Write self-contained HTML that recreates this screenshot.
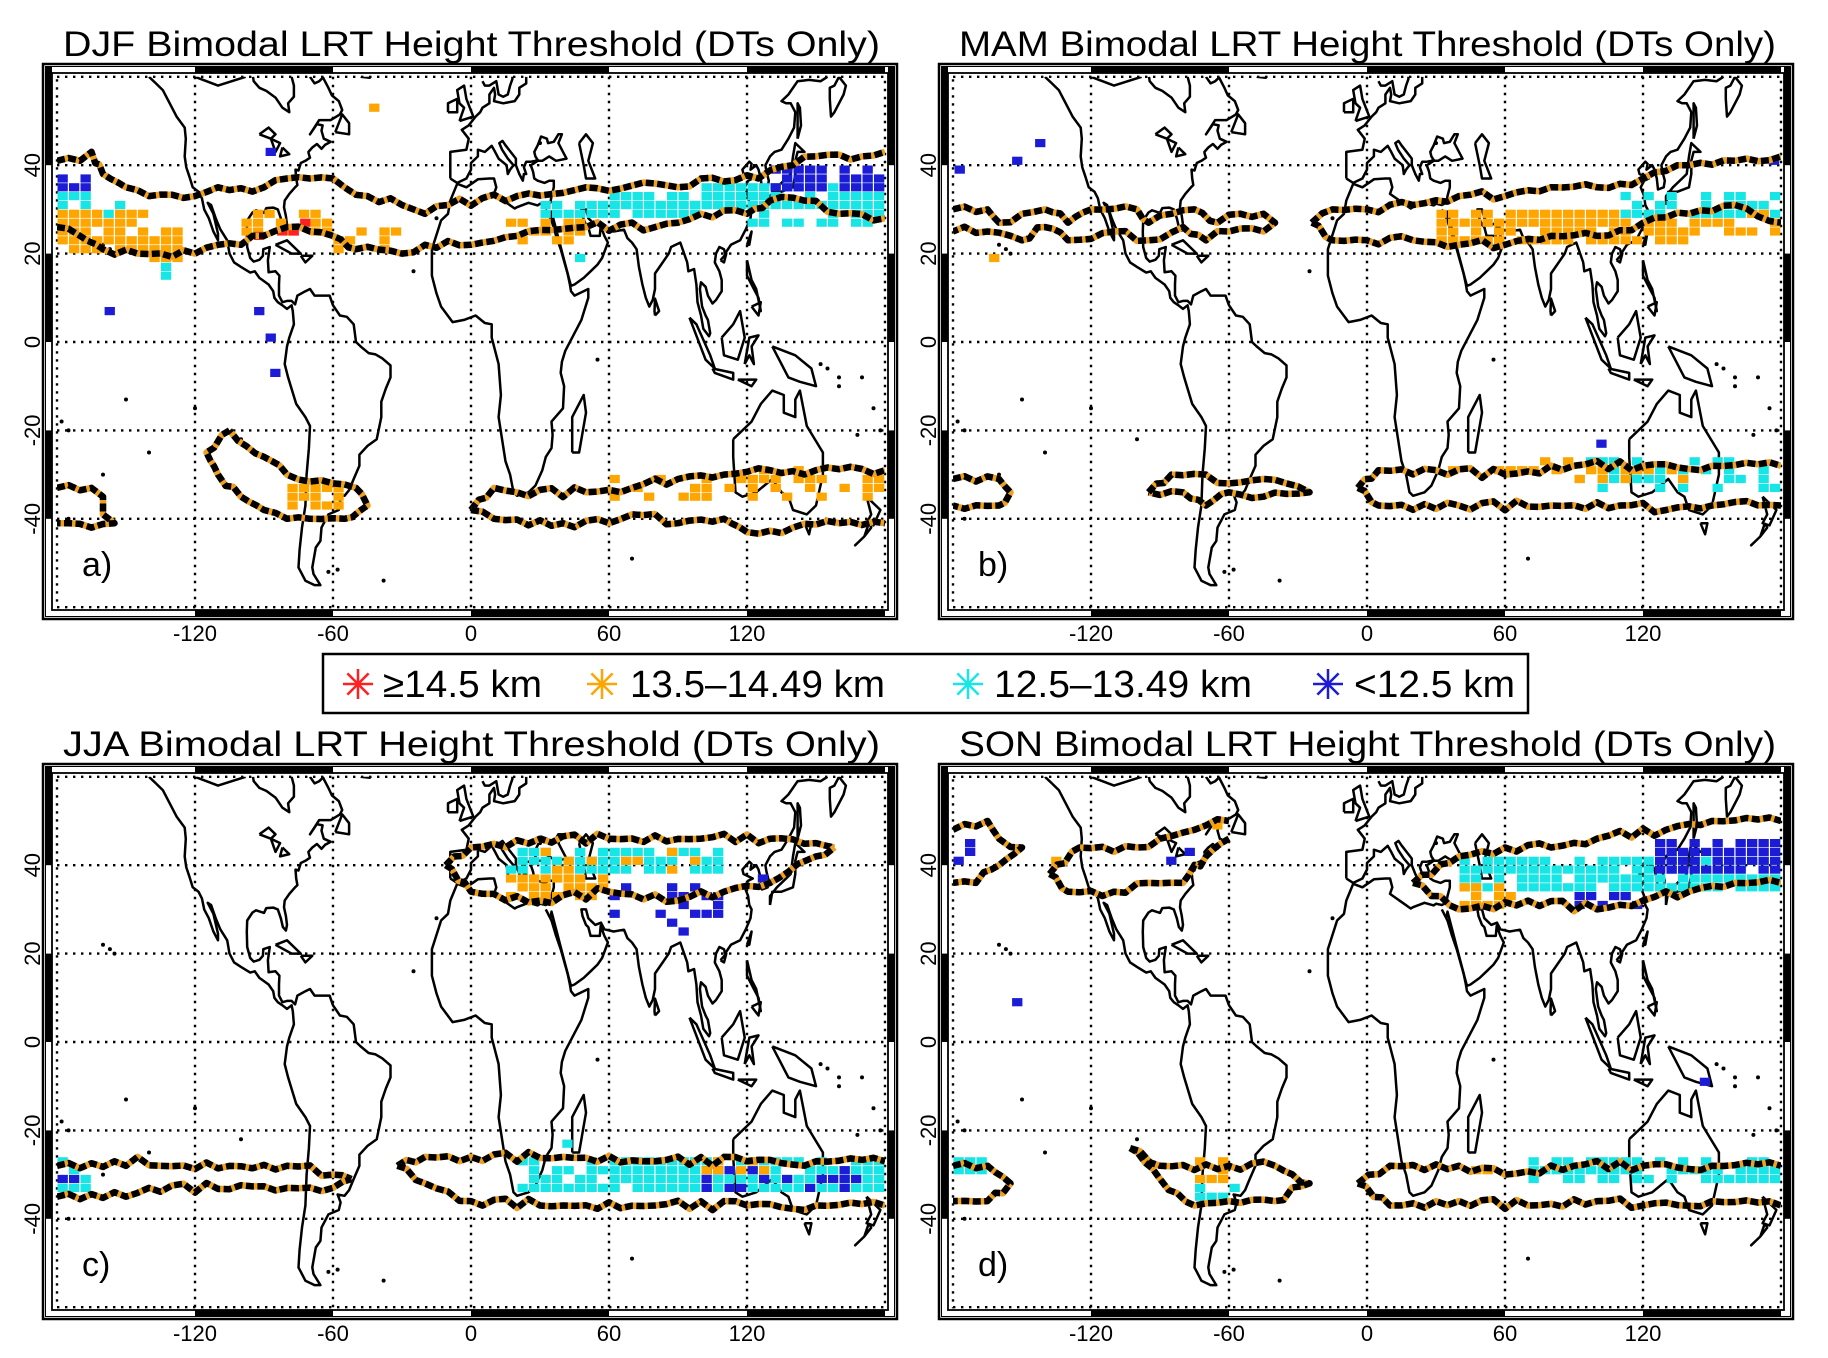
<!DOCTYPE html>
<html><head><meta charset="utf-8"><style>
html,body{margin:0;padding:0;background:#fff;}
svg{display:block;}
text{font-family:"Liberation Sans",sans-serif;fill:#000;}
</style></head><body>
<svg id="s" width="1828" height="1358" viewBox="0 0 1828 1358" xmlns="http://www.w3.org/2000/svg"></svg>
<script>
const W=2.3,H=4.42;
const COL={O:'#ffa500',C:'#18e6e6',B:'#1c1cd6',R:'#ff2020'};
const coasts=[
[[-140,60],[-137,58.5],[-134,57],[-131,54],[-128,51],[-124.5,48.5],[-124,46],[-124.5,42],[-123.8,39.5],[-122.5,37.5],[-121,35],[-118.5,34],[-117,32.5],[-116,30],[-114,28],[-112,25],[-110,23],[-110,24.5],[-112,29],[-114.5,31.5],[-113,31],[-111,28],[-109,25.5],[-106,23],[-105,20],[-103,18],[-100,17],[-96,15.7],[-94,16],[-92,14.5],[-88,13],[-86,11.5],[-85.5,10],[-84,9],[-82,8.3],[-80,7.5],[-78,8.3],[-77.5,7],[-77,4],[-79,1],[-80,-1],[-81,-5],[-79.5,-8],[-76,-14],[-72,-17],[-70,-19],[-70.5,-24],[-71.5,-30],[-72,-37],[-73.5,-42],[-74.5,-47],[-75,-51],[-72,-54],[-68,-55],[-65.5,-55],[-68.5,-52.5],[-69,-51],[-67.5,-46.5],[-65.5,-45],[-65,-42],[-62,-39],[-57.5,-38],[-56.7,-36.3],[-58,-34.5],[-55,-34.8],[-53,-33.5],[-51,-31],[-48.5,-28],[-48.5,-25.5],[-45,-23.5],[-41,-22],[-39,-17],[-39,-13.5],[-37,-10.5],[-35,-8],[-35,-5.3],[-38.5,-3.7],[-41.5,-2.8],[-44.5,-2.5],[-48,-1],[-50,0],[-51,4],[-54,5.7],[-57,6],[-60,8.3],[-61.5,10.5],[-64,10.5],[-68,10.5],[-70,12],[-72,11.5],[-75.5,10.5],[-76.5,8.5],[-78,9.3],[-80,9.3],[-82,9],[-83.5,10.5],[-83.5,13],[-83.3,15],[-85,16],[-88,15.8],[-88.3,18.5],[-87.5,21.5],[-90.3,21],[-90.5,19.5],[-92,18.6],[-94.5,18.2],[-96,19],[-97.3,21.5],[-97.5,25],[-97.3,27.5],[-95,29.3],[-93.5,29.8],[-90,29.2],[-89,30.3],[-86,30.4],[-84,30],[-82.7,28],[-81.8,26],[-80.5,25.2],[-80,26.5],[-80.5,28.5],[-81.3,30.5],[-81,32],[-79,33.5],[-76.5,35],[-75.5,35.5],[-76,37],[-76.3,39],[-75,38.8],[-74,40.5],[-72,41],[-70,41.7],[-70.5,42.5],[-70.7,43],[-69,44],[-67,44.8],[-65,43.7],[-63.5,44.6],[-61,45.3],[-64,46],[-65,47.8],[-64.5,49],[-67,49.3],[-70,47],[-66,50.2],[-61,50.2],[-57,51.5],[-56,52.5],[-57.5,54.5],[-60.5,55.8],[-62,57.5],[-64.5,60]],
[[-78,60],[-77,58],[-77,55.5],[-79.5,54],[-79,52],[-82,53],[-85,55.3],[-89,56.8],[-92,57.5],[-94.5,59],[-94.8,60]],
[[-85,22],[-80,23],[-74,20],[-78,20],[-85,22]],[[-74,19.5],[-69,19.5],[-72,18],[-74,19.5]],
[[-59,47.5],[-53,47],[-53,49.5],[-56,51.5],[-59,47.5]],
[[-92,47],[-88,48.5],[-85,47],[-87,46],[-92,47]],[[-87,46],[-85,43],[-83,45],[-87,46]],[[-82,44],[-79,42.5],[-83,42],[-82,44]],
[[-9,37],[-9,43],[-2,43.5],[-1,46],[-4,48],[-1,49],[2,51],[4,52],[5,53],[8,54],[8,56],[10,57.5],[10.5,56],[10,54.5],[14,54],[19,54.5],[21,56],[21,57.5],[24,58.5],[24,60]],
[[5,59],[6,58],[8,58],[11,59],[12,56],[14,55.5],[16,56],[17,58],[18,59.5],[18,60.5]],
[[-5,50],[1,51],[-2,55],[-3,58],[-6,57],[-5,54],[-3,53],[-5,50]],[[-10,52],[-6,52],[-6,55],[-10,54],[-10,52]],
[[-9,37],[-6,36],[-2,37],[0,39],[0,40.5],[3,42],[3,43.5],[6,43],[9,44.4],[10.5,43],[12,41.5],[15.5,40],[16,38],[17,39],[18.5,40],[16,41.5],[13.5,43.5],[12.3,45],[13.7,45.5],[15,44.5],[19.5,41.5],[19.5,40],[21,38],[22.5,36.5],[23,38],[24,38],[23,39.5],[24,40.8],[26,40.8],[28,41],[29,41.2],[28,42],[27.5,43],[29,44.5],[30.5,46.5],[33,46],[33.5,45],[36,45.3],[38,47],[39.5,47],[38,45],[40,43],[41.5,41.5],[37,41],[34,42],[31,41],[29,41],[27,40.3],[26,40],[27,38.5],[27.5,37],[29,36.5],[32,36],[34,36.5],[36,36.5],[36,35],[35,33],[34.5,31.5],[32.5,31],[30,31.3],[29,30.9],[25,31.5],[20,30.5],[19,30.2],[15.5,31.5],[10,33.5],[11,35],[10,37],[8,37],[3,36.8],[-2,35],[-6,35.8],[-9,32],[-10,29],[-13,27.5],[-17,21],[-17,15],[-15,11],[-13,8],[-8,4.5],[-3,5],[2,6],[6,4.3],[9,4],[9,1],[12,-5],[13,-12],[12,-17],[15,-27],[17,-30],[18.5,-34],[20,-34.8],[25,-34],[28,-32.5],[31,-29],[32.5,-26],[35,-24],[35.5,-21],[35,-18],[40,-15],[40.5,-10],[39,-7],[39.5,-4.5],[41,-2],[44,1],[48,5],[51,10],[51,12],[45,10.5],[43.5,11.5],[43,13],[42,15.5],[39,21],[37,24],[35,27.5],[32.5,30]],
[[34.5,28],[35,29.5],[39,21.5],[42.5,14.5],[43.5,12.7],[45,13],[49,14.5],[52,16],[55,17.5],[57,19],[59.5,22.5],[58,24],[56.4,26.3],[56,24],[54,24],[52,24],[51,26],[50,26.5],[48.5,28.5],[48,30],[50,30],[51,28],[54,26.5],[56.5,27],[58,25.5],[62,25],[66.5,25.4],[68,23.5],[70,22.5],[72,21],[73,17],[74.5,13],[76,10],[77.5,8],[79,9.5],[80,12],[80,15.5],[82,17],[86,20],[87,21.5],[89,22],[91,22.5],[92,21],[94,18],[94.5,16],[97,16.5],[98,13],[98.5,9],[100,6],[101,3],[103.5,1.3],[104,2],[103,5],[102,6],[100.5,8],[99.5,12],[100,13.5],[102,12.5],[103,10.5],[105,8.7],[106.5,9.5],[109,11.5],[109,14],[108,16],[106,18],[106.5,20],[108,21.5],[110,21],[110.5,20],[113,22],[117,23],[119.5,25.5],[121.5,28],[122,30],[121,31],[120.5,33],[119,35],[120.5,36.5],[122.5,37],[118.5,38],[118,39],[121,40.8],[122,40.3],[121.5,39],[124,40],[125,39],[126,37],[126.5,34.5],[129,35],[129.5,36.5],[128.5,38.5],[128,40],[130,42],[132,43],[135,43.5],[138,46],[140.5,48.5],[141,52],[139,54],[137,54],[135,54.5],[138,56],[142,59],[147,59.3],[152,59],[155,60]],
[[160,60],[163,58],[162,56],[158,52],[156.5,51],[156,55],[156,57.5],[158,58],[160,60]],
[[142,46],[143.5,49],[143,53],[142,54],[142,50],[142,46]],
[[47,45],[50,47],[53,45],[51,41],[54,37],[50,37],[49,40],[47,45]],
[[130,31],[131,34],[135,34],[140,35],[141,38],[141,41],[142,43],[145,43],[141,45],[140,42],[139,38],[137,37],[133,35],[130,33],[130,31]],
[[120,22],[122,25],[121,22],[120,22]],[[108.5,18.5],[111,20],[110,18],[108.5,18.5]],[[80,6],[81.8,7],[80,9.8],[79.8,7],[80,6]],
[[95,5.5],[98,4],[104,-3],[106,-6],[102,-4],[95,5.5]],[[105,-6],[114,-7],[114,-8.5],[106,-7],[105,-6]],[[116,-8.5],[124,-8.5],[122,-10],[116,-8.5]],
[[109,1],[110,-3],[116,-4],[119,1],[117,7],[114,4],[109,1]],
[[119,-5],[121,1],[125,1.5],[122,-1],[123,-5],[121,-3],[119,-5]],
[[120,18.5],[122,14],[124,12],[126,7],[125,10],[123,12],[120,15],[120,18.5]],[[122,8],[126,9],[125,6],[122,8]],
[[131,-1],[141,-3],[148,-6],[150,-10],[143,-9],[138,-8],[134,-4],[131,-1]],
[[114,-22],[114,-26],[115,-34],[118,-35],[124,-34],[131,-31],[135,-34],[138,-35],[140,-38],[146,-39],[150,-37],[153,-30],[153,-25],[146,-19],[143,-11],[141,-13],[141,-17],[136,-16],[136,-12],[131,-11],[126,-14],[122,-18],[114,-22]],
[[145,-41],[148,-41],[147,-43.5],[145,-41]],
[[172,-35],[178,-38],[175,-41.5],[172,-41],[174,-39],[172,-35]],[[173,-41],[174,-42],[171,-44],[167,-46],[171,-44],[173,-41]],
[[44,-25],[47,-25],[50,-16],[49,-12],[44,-17],[44,-25]],
[[-48,60],[-44,59.8],[-43,60.5]],[[-98,60],[-110,58],[-120,60]],[[-70,60],[-68,58.5],[-66,59],[-64,60]]
];
const dots=[[-150,-13],[-120,-15],[-160,-30],[-100,-22],[160,-10],[175,-15],[178,-20],[-140,-25],[-62,-52],[-58,-51.5],[-38,-54],[70,-49],[30,45],[-15,28],[-25,16],[168,-21],[-155,20],[-157,21],[-160,22],[170,-8],[160,-8],[152,-5],[155,-6],[-175,-20],[-178,-18],[55,-4],[-175,-40]];
function h(i,j,p){const v=Math.sin(i*12.9898+j*78.233+p*3.17)*43758.5453;return v-Math.floor(v);}
const panels=[
{x:42,y:63,t:'DJF',l:'a)',
 fills:[[-180,-140,20,30,'O',.9],[-140,-125,18,26,'O',.6],[-180,-165,30,34,'C',.85],[-180,-165,34,38,'B',.7],[-160,-150,28,32,'C',.5],[-135,-130,14,18,'C',.7],[-100,-60,24,30,'O',.55],[-60,-30,20,26,'O',.3],[15,60,22,28,'O',.45],[30,100,28,32,'C',.85],[60,130,30,34,'C',.8],[100,180,30,36,'C',.9],[130,180,34,40,'B',.8],[120,180,26,30,'C',.4],[45,50,18,20,'C',1],[-80,-55,-38,-32,'O',.9],[60,180,-36,-30,'O',.35],[120,150,-34,-28,'O',.6]],
 cells:[[-77,25,'R'],[-72,27,'R'],[-82,25,'R'],[-92,24,'R'],[-87,43,'B'],[-157,7,'B'],[-92,7,'B'],[-85,-7,'B'],[-87,1,'B'],[-42,53,'O']],
 bands:[[[-180,41],[-170,41],[-165,43],[-160,38],[-150,35],[-140,33],[-120,33],[-110,35],[-90,35],[-80,37],[-70,37],[-60,37],[-55,35],[-45,33],[-30,31],[-20,29],[-10,31],[20,33],[50,35],[90,35],[100,37],[125,37],[140,40],[150,42],[170,42],[180,43]],
 [[-180,26],[-170,24],[-160,21],[-145,20],[-120,20],[-110,22],[-100,22],[-95,24],[-80,26],[-70,25],[-60,24],[-50,21],[-30,20],[-20,22],[0,22],[20,24],[50,26],[80,26],[90,27],[100,29],[120,29],[130,32],[145,32],[160,29],[180,28]],
 [[-180,-33],[-165,-33],[-160,-35],[-160,-39],[-155,-41],[-165,-42],[-175,-41],[-180,-41]],
 [[-105,-20],[-115,-25],[-110,-30],[-100,-35],[-90,-38],[-80,-40],[-70,-40],[-55,-40],[-45,-37],[-50,-33],[-60,-32],[-80,-30],[-90,-26],[-105,-20]],
 [[0,-38],[10,-33],[20,-34],[50,-34],[70,-33],[90,-31],[110,-30],[130,-29],[150,-29],[180,-29]],
 [[0,-38],[10,-40],[40,-41],[60,-41],[70,-39],[90,-41],[110,-40],[120,-43],[140,-42],[160,-41],[180,-41]]]},
{x:938,y:63,t:'MAM',l:'b)',
 fills:[[30,140,22,30,'O',.8],[110,180,28,34,'C',.5],[140,180,24,30,'O',.3],[30,110,-30,-26,'O',.35],[90,180,-34,-26,'C',.45],[90,140,-32,-28,'O',.45]],
 cells:[[-152,41,'B'],[-177,39,'B'],[-142,45,'B'],[-162,19,'O'],[102,-23,'B'],[177,41,'B']],
 bands:[[[-180,30],[-165,30],[-160,27],[-150,29],[-140,30],[-130,27],[-120,30],[-100,30],[-95,27],[-85,29],[-75,30],[-65,27],[-55,29],[-45,29],[-40,27],[-45,25],[-60,25],[-70,23],[-80,26],[-95,23],[-110,25],[-130,23],[-140,26],[-150,23],[-165,25],[-180,25]],
 [[-24,27],[-15,30],[0,30],[20,31],[40,33],[60,33],[80,35],[100,35],[120,37],[140,40],[160,41],[180,42]],
 [[-24,27],[-15,23],[0,23],[20,23],[40,22],[60,22],[80,24],[100,24],[120,27],[140,29],[160,31],[180,27]],
 [[-180,-31],[-160,-31],[-155,-34],[-160,-37],[-180,-37]],
 [[-95,-34],[-85,-30],[-70,-30],[-60,-32],[-45,-31],[-35,-32],[-25,-34],[-45,-35],[-60,-34],[-70,-37],[-80,-34],[-95,-34]],
 [[-4,-33],[5,-29],[30,-29],[60,-30],[90,-28],[120,-28],[150,-28],[180,-28]],
 [[-4,-33],[5,-37],[40,-37],[80,-37],[110,-37],[130,-38],[150,-37],[165,-36],[180,-37]]]},
{x:42,y:763,t:'JJA',l:'c)',
 fills:[[15,110,38,44,'C',.8],[15,60,32,38,'O',.55],[30,110,38,44,'O',.25],[60,110,28,36,'B',.35],[85,95,24,28,'B',.5],[20,180,-34,-26,'C',.85],[100,180,-34,-28,'B',.45],[-180,-165,-34,-26,'C',.7],[-180,-165,-34,-30,'B',.5],[100,130,-30,-26,'O',.3]],
 cells:[[42,-23,'C'],[127,37,'B']],
 bands:[[[-11,40],[0,44],[30,46],[60,46],[100,46],[130,46],[150,45],[158,44]],
 [[-11,40],[0,34],[30,32],[60,34],[90,32],[110,34],[130,36],[150,42],[158,44]],
 [[-180,-28],[-150,-28],[-145,-26],[-135,-28],[-80,-28],[-60,-30],[-52,-31]],
 [[-180,-35],[-150,-35],[-140,-33],[-80,-33],[-60,-33],[-52,-31]],
 [[-32,-28],[-20,-26],[0,-26],[40,-26],[80,-27],[120,-27],[150,-27],[180,-27]],
 [[-32,-28],[-20,-32],[0,-36],[40,-37],[80,-37],[120,-37],[150,-37],[180,-37]]]},
{x:938,y:763,t:'SON',l:'d)',
 fills:[[40,180,34,42,'C',.85],[125,180,38,46,'B',.85],[40,65,30,36,'O',.75],[90,120,30,34,'B',.3],[-180,-170,40,46,'B',.6],[70,180,-32,-26,'C',.7],[-180,-165,-30,-26,'C',.8],[-75,-60,-32,-26,'O',.6],[-75,-55,-36,-32,'C',.4],[30,60,-30,-28,'O',.3]],
 cells:[[-152,9,'B'],[-85,41,'B'],[-77,43,'B'],[-65,49,'O'],[147,-9,'B'],[-135,41,'O']],
 bands:[[[-180,48],[-165,50],[-160,46],[-150,44],[-160,40],[-170,36],[-180,36]],
 [[-138,38],[-125,44],[-100,44],[-90,46],[-75,48],[-60,50]],
 [[-138,38],[-130,34],[-110,34],[-95,36],[-80,36],[-70,42],[-60,46]],
 [[20,36],[40,42],[60,44],[80,44],[100,46],[130,48],[150,50],[180,50]],
 [[20,36],[40,30],[70,32],[100,30],[120,32],[140,34],[160,36],[180,36]],
 [[-180,-28],[-165,-28],[-155,-32],[-165,-36],[-180,-36]],
 [[-103,-24],[-90,-28],[-60,-28],[-40,-28],[-25,-32],[-40,-36],[-60,-36],[-75,-37],[-90,-31],[-103,-24]],
 [[-4,-32],[10,-28],[40,-28],[60,-30],[90,-28],[120,-28],[150,-28],[180,-28]],
 [[-4,-32],[10,-37],[40,-36],[70,-37],[100,-36],[120,-37],[150,-36],[180,-37]]]}
];
let out='';
function pl(pts,px,py){return pts.map(p=>(px+429+p[0]*W).toFixed(1)+','+(py+279-p[1]*H).toFixed(1)).join(' ');}
function zig(k){const r=[];for(let i=0;i<k.length-1;i++){const a=k[i],b=k[i+1];const n=Math.max(1,Math.round(Math.hypot(b[0]-a[0],(b[1]-a[1])*2.5)/5));for(let j=0;j<n;j++){const t=j/n;let lo=a[0]+(b[0]-a[0])*t,la=a[1]+(b[1]-a[1])*t;if(j>0)la+=(h(i,j,7)-0.5)*2.2;r.push([lo,la]);}}r.push(k[k.length-1]);return r;}
panels.forEach((P,pi)=>{
 const px=P.x,py=P.y;
 const X=l=>px+429+l*W,Y=l=>py+279-l*H;
 out+=`<clipPath id="c${pi}"><rect x="${X(-180)}" y="${Y(60)}" width="${360*W}" height="${120*H}"/></clipPath>`;
 out+=`<rect x="${px+1}" y="${py+1}" width="854" height="555" fill="#fff" stroke="#000" stroke-width="2.5"/>`;
 out+=`<rect x="${px+3.5}" y="${py+3.5}" width="849" height="550" fill="none" stroke="#000" stroke-width="1"/>`;
 const bt=[py+4,py+547],bl=[px+4,px+846];
 [-120,0,120].forEach(l=>{const x1=X(l),x2=Math.min(X(l+60),px+852);bt.forEach(y=>out+=`<rect x="${x1}" y="${y}" width="${x2-x1}" height="6" fill="#000"/>`);});
 [[60,40],[20,0],[-20,-40]].forEach(([a,b])=>{const y1=a==60?py+4:Y(a),y2=Y(b);bl.forEach(x=>out+=`<rect x="${x}" y="${y1}" width="6" height="${y2-y1}" fill="#000"/>`);});
 out+=`<rect x="${px+10}" y="${py+10}" width="836" height="537" fill="none" stroke="#000" stroke-width="1.8"/>`;
 const ds='stroke="#000" stroke-width="2.4" stroke-dasharray="2.4 5.6" fill="none"';
 out+=`<rect x="${X(-180)}" y="${Y(60)}" width="${360*W}" height="${120*H}" ${ds}/>`;
 [-120,-60,0,60,120].forEach(l=>out+=`<line x1="${X(l)}" y1="${Y(60)}" x2="${X(l)}" y2="${Y(-60)}" ${ds}/>`);
 [40,20,0,-20,-40].forEach(l=>out+=`<line x1="${X(-180)}" y1="${Y(l)}" x2="${X(180)}" y2="${Y(l)}" ${ds}/>`);
 out+=`<g clip-path="url(#c${pi})">`;
 coasts.forEach(c=>out+=`<polyline points="${pl(c,px,py)}" fill="none" stroke="#000" stroke-width="2.5" stroke-linejoin="round"/>`);
 dots.forEach(d=>out+=`<circle cx="${X(d[0])}" cy="${Y(d[1])}" r="2" fill="#000"/>`);
 P.fills.forEach((f,fi)=>{for(let lo=f[0];lo<f[1];lo+=5)for(let la=f[2];la<f[3];la+=2){if(h(lo,la,fi+pi*10)<f[5]){out+=`<rect x="${(X(lo+2.5)-5.3).toFixed(1)}" y="${(Y(la+1)-4.1).toFixed(1)}" width="10.3" height="8.2" fill="${COL[f[4]]}"/>`;}}});
 P.cells.forEach(c=>out+=`<rect x="${(X(c[0])-5.3).toFixed(1)}" y="${(Y(c[1])-4.1).toFixed(1)}" width="10.3" height="8.2" fill="${COL[c[2]]}"/>`);
 P.bands.forEach(b=>{const p=pl(zig(b),px,py);out+=`<polyline points="${p}" fill="none" stroke="#f0a020" stroke-width="6.5" stroke-linejoin="round"/><polyline points="${p}" fill="none" stroke="#000" stroke-width="6.5" stroke-dasharray="8 3.5" stroke-linejoin="round"/>`;});
 out+=`</g>`;
 out+=`<text x="${px+21}" y="${py-7}" font-size="35" textLength="817" lengthAdjust="spacingAndGlyphs">${P.t} Bimodal LRT Height Threshold (DTs Only)</text>`;
 [-120,-60,0,60,120].forEach(l=>out+=`<text x="${X(l)}" y="${py+578}" font-size="22" text-anchor="middle">${l}</text>`);
 [40,20,0,-20,-40].forEach(l=>out+=`<text transform="translate(${px-2},${Y(l)}) rotate(-90)" font-size="22" text-anchor="middle">${l}</text>`);
 out+=`<text x="${px+40}" y="${py+513}" font-size="34">${P.l}</text>`;
});
out+=`<rect x="323" y="654" width="1205" height="59" fill="#fff" stroke="#000" stroke-width="2.5"/>`;
function star(cx,cy,c){let s='';for(let a=0;a<4;a++){const t=a*Math.PI/4,dx=15*Math.cos(t),dy=15*Math.sin(t);s+=`<line x1="${cx-dx}" y1="${cy-dy}" x2="${cx+dx}" y2="${cy+dy}" stroke="${c}" stroke-width="2.5"/>`;}return s;}
[[358,383,159,'≥14.5 km','#ff2020'],[602,630,255,'13.5–14.49 km','#ffa500'],[968,994,258,'12.5–13.49 km','#18e6e6'],[1328,1354,161,'<12.5 km','#1c1cd6']].forEach(L=>{
 out+=star(L[0],684,L[4]);
 out+=`<text x="${L[1]}" y="697" font-size="38" textLength="${L[2]}" lengthAdjust="spacingAndGlyphs">${L[3].replace('<','&lt;')}</text>`;
});
document.getElementById('s').innerHTML=out;
</script>
</body></html>
